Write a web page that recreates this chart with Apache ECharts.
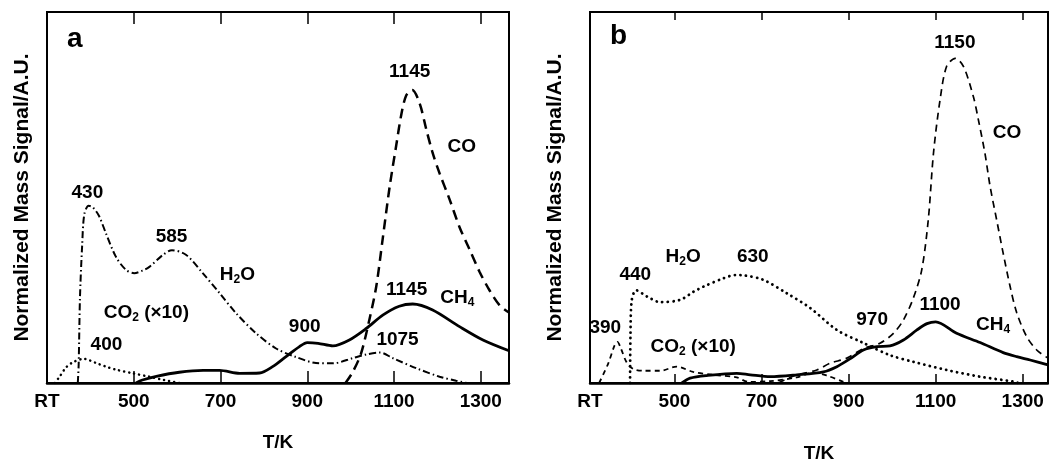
<!DOCTYPE html>
<html>
<head>
<meta charset="utf-8">
<script src="https://cdn.jsdelivr.net/npm/echarts@6/dist/echarts.min.js"></script>
<style>
  html, body { margin: 0; padding: 0; background: #fff; }
  #chart { width: 1049px; height: 462px; }
</style>
</head>
<body>
<div id="chart"></div>
<script>
// tick values / labels (T in K, RT = room temperature at the left edge)
const tickTemps = [500, 700, 900, 1100, 1300]

// ---- panel a : [T/K, signal] ----
const coA = [[988,0],[1005,3],[1024,8],[1043,17],[1059,26],[1074,39],[1090,53],[1105,64],[1117,72.5],[1128,77.5],[1142,79],[1159,75.4],[1174,68.5],[1189,62],[1205,56.5],[1228,49.5],[1251,42],[1274,36],[1297,30],[1320,25],[1343,21],[1365,19]]
const h2oA = [[371,0],[373,5],[376,23],[381,37],[386,45.5],[396,47.8],[406,47.3],[420,45],[436,40.3],[459,34],[482,30.5],[501,29.6],[520,30.3],[536,31.3],[567,34.5],[588,35.8],[621,34.5],[659,29.6],[698,24.2],[736,18.8],[782,13.4],[828,9.3],[874,7],[920,5.4],[959,5.3],[1005,6.7],[1036,7.7],[1068,8.2],[1097,6.7],[1151,4],[1205,1.7],[1243,0.6],[1268,0]]
const co2A = [[318,0],[329,1.7],[344,4.2],[360,5.6],[385,6.5],[413,5.4],[436,4.4],[459,3.6],[498,2.6],[536,1.7],[570,0.8],[605,0]]
const ch4A = [[505,0],[520,0.8],[552,1.8],[605,2.9],[660,3.4],[698,3.4],[744,2.6],[790,2.7],[820,4.4],[851,7.1],[882,9.8],[900,10.9],[925,10.7],[959,10],[997,11.6],[1036,14.7],[1074,18.3],[1112,20.7],[1143,21.3],[1189,19.7],[1251,15.2],[1305,11.6],[1365,8.7]]

// ---- panel b ----
const coB = [[738,0],[760,1.2],[781,2.2],[827,3.5],[857,5.3],[896,6.7],[934,9.3],[972,10.7],[1003,13.4],[1026,17],[1049,23],[1068,30.5],[1083,44],[1095,62],[1110,76.3],[1125,85.3],[1145,87.5],[1164,85.3],[1187,77],[1198,71],[1213,62],[1225,53],[1240,44],[1255,35],[1271,26],[1286,19],[1309,12.5],[1332,8.9],[1358,6.7]]
const h2oB = [[398,0],[399,13],[402,22.4],[412,25],[437,23.3],[467,21.8],[513,22.4],[544,24.6],[567,26],[612,28.2],[640,29.1],[660,29],[704,27.8],[758,24.2],[812,20.2],[873,14.3],[930,11],[995,7.5],[1049,5.7],[1125,3.5],[1202,1.7],[1278,0.4],[1290,0]]
const co2B = [[327,0],[348,5.3],[362,10],[369,11.1],[377,9.3],[390,5.6],[405,3.8],[430,3.3],[467,3.3],[505,4.4],[543,3],[590,2.2],[643,1.5],[670,0.3],[720,0.5],[780,1.5],[819,2.8],[850,2],[888,0.3]]
const ch4B = [[517,0],[536,1.3],[574,2],[643,2.6],[674,2.2],[720,1.7],[781,2.2],[842,3],[873,4.4],[903,6.5],[934,8.9],[965,9.8],[995,10],[1026,11.6],[1057,14.3],[1080,16],[1100,16.5],[1148,13.4],[1202,10.9],[1255,8.2],[1286,7.1],[1317,6.2],[1358,4.9]]

// peak / curve labels: [T, signal, text]
const notesA = [[1136,83.8,'1145'],[1256,63.6,'CO'],[393,51.2,'430'],[587,39.4,'585'],[739,29.1,'H{s|2}O'],[529,18.9,'CO{s|2} (×10)'],[437,10.2,'400'],[894,15.1,'900'],[1129,25.1,'1145'],[1246,22.9,'CH{s|4}'],[1108,11.6,'1075']]
const notesB = [[1144,91.6,'1150'],[1264,67.4,'CO'],[520,34,'H{s|2}O'],[680,34,'630'],[410,29.1,'440'],[341,14.8,'390'],[543,9.7,'CO{s|2} (×10)'],[954,17,'970'],[1110,21,'1100'],[1232,15.6,'CH{s|4}']]

const font = 'Liberation Sans, Arial, Helvetica, sans-serif'
const ink = '#000'
const ranges = [[300, 1365], [306, 1358]]

const chart = echarts.init(document.getElementById('chart'))

function bottomAxis(i, nameGap) {
  return {
    type: 'value', gridIndex: i, position: 'bottom',
    min: ranges[i][0], max: ranges[i][1],
    name: 'T/K', nameLocation: 'middle', nameGap: nameGap,
    nameTextStyle: { fontFamily: font, fontWeight: 'bold', fontSize: 19, color: ink },
    axisLine: { lineStyle: { color: ink, width: 2.5 } },
    axisTick: { inside: true, length: i === 0 ? 12 : 9, customValues: tickTemps, lineStyle: { color: ink, width: 1.5 } },
    axisLabel: {
      customValues: [ranges[i][0]].concat(tickTemps),
      formatter: v => (v === ranges[i][0] ? 'RT' : String(v)),
      fontFamily: font, fontWeight: 'bold', fontSize: 19, color: ink, margin: 9
    },
    splitLine: { show: false }
  }
}

function topAxis(i) {
  return {
    type: 'value', gridIndex: i, position: 'top',
    min: ranges[i][0], max: ranges[i][1],
    axisLine: { lineStyle: { color: ink, width: 2 } },
    axisTick: { inside: true, length: i === 0 ? 12 : 8, customValues: tickTemps, lineStyle: { color: ink, width: 1.5 } },
    axisLabel: { show: false },
    splitLine: { show: false }
  }
}

function leftAxis(i, nameGap) {
  return {
    type: 'value', gridIndex: i, min: 0, max: 100,
    name: 'Normalized Mass Signal/A.U.', nameLocation: 'middle', nameGap: nameGap,
    nameTextStyle: { fontFamily: font, fontWeight: 'bold', fontSize: 21, color: ink },
    axisLine: { show: true, lineStyle: { color: ink, width: 2 } },
    axisTick: { show: false }, axisLabel: { show: false }, splitLine: { show: false }
  }
}

function curve(i, data, width, dash, cap) {
  return {
    type: 'line', xAxisIndex: i * 2, yAxisIndex: i, data: data,
    smooth: 0.3, showSymbol: false, silent: true,
    lineStyle: { color: ink, width: width, type: dash, cap: cap || 'butt' }
  }
}

function notes(i, list) {
  return {
    type: 'scatter', xAxisIndex: i * 2, yAxisIndex: i, symbolSize: 0, silent: true,
    itemStyle: { color: ink, opacity: 1 },
    data: list.map(n => ({ value: [n[0], n[1]], name: n[2] })),
    label: {
      show: true, position: 'inside', formatter: p => p.name, opacity: 1,
      fontFamily: font, fontWeight: 'bold', fontSize: 19, color: ink,
      textBorderWidth: 0, textBorderColor: 'transparent',
      rich: { s: { fontFamily: font, fontWeight: 'bold', fontSize: 12, color: ink, textBorderWidth: 0, padding: [10, 0, 0, 0] } }
    }
  }
}

chart.setOption({
  animation: false,
  backgroundColor: '#fff',
  title: [
    { text: 'a', left: 62, top: 20, textStyle: { fontFamily: font, fontWeight: 'bold', fontSize: 28, color: ink } },
    { text: 'b', left: 605, top: 17, textStyle: { fontFamily: font, fontWeight: 'bold', fontSize: 28, color: ink } }
  ],
  grid: [
    { left: 47, right: 540, top: 12, bottom: 79, outerBoundsMode: 'none', show: true, borderColor: ink, borderWidth: 2 },
    { left: 590, right: 1, top: 12, bottom: 79, outerBoundsMode: 'none', show: true, borderColor: ink, borderWidth: 2 }
  ],
  xAxis: [bottomAxis(0, 50), topAxis(0), bottomAxis(1, 61), topAxis(1)],
  yAxis: [leftAxis(0, 14), leftAxis(1, 24)],
  series: [
    curve(0, coA, 2.5, [10, 6]),
    curve(0, h2oA, 2, [7, 3, 1.5, 3]),
    curve(0, co2A, 2.5, [0.1, 5], 'round'),
    curve(0, ch4A, 2.8, 'solid'),
    notes(0, notesA),
    curve(1, coB, 1.7, [7, 5]),
    curve(1, h2oB, 2.8, [0.1, 5.5], 'round'),
    curve(1, co2B, 1.8, [5, 4]),
    curve(1, ch4B, 2.8, 'solid'),
    notes(1, notesB)
  ]
})
</script>
</body>
</html>
